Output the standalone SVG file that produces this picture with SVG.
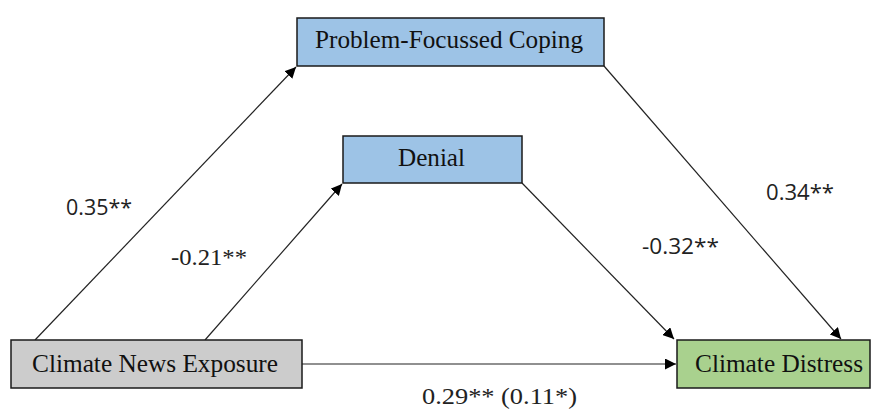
<svg xmlns="http://www.w3.org/2000/svg" width="872" height="410" viewBox="0 0 872 410">
<defs>
<marker id="ah" viewBox="0 0 10 10" refX="10" refY="5" markerWidth="11" markerHeight="11" markerUnits="userSpaceOnUse" orient="auto">
<path d="M0,0 L10,5 L0,10 z" fill="#000"/>
</marker>
<style>
.box{stroke:#1a1a1a;stroke-width:1.5}
.nt{font-family:"Liberation Serif","Times New Roman",serif;font-size:25px;fill:#111}
.lb{font-family:"Open Sans","Liberation Sans",Arial,sans-serif;font-size:21px;fill:#222}
.ls{font-family:"Liberation Serif","Times New Roman",serif;font-size:23px;fill:#222}
.cn{stroke:#222;stroke-width:1.2;fill:none;marker-end:url(#ah)}
</style>
</defs>
<rect width="872" height="410" fill="#fff"/>
<g id="connectors">
<line class="cn" x1="35" y1="340" x2="296" y2="67"/>
<line class="cn" x1="205" y1="340" x2="342" y2="184"/>
<line class="cn" x1="604" y1="66" x2="841" y2="339"/>
<line class="cn" x1="522" y1="183" x2="674" y2="339"/>
<line class="cn" x1="302" y1="364" x2="676" y2="364"/>
</g>
<g id="n-pfc">
<rect class="box" x="297" y="18" width="307" height="48" fill="#9dc3e6"/>
<text class="nt" x="315" y="48" textLength="268" lengthAdjust="spacingAndGlyphs">Problem-Focussed Coping</text>
</g>
<g id="n-denial">
<rect class="box" x="343" y="136" width="179" height="47" fill="#9dc3e6"/>
<text class="nt" x="398" y="166" textLength="67" lengthAdjust="spacingAndGlyphs">Denial</text>
</g>
<g id="n-cne">
<rect class="box" x="11" y="340" width="291" height="48" fill="#cccccc"/>
<text class="nt" x="32" y="372" textLength="246" lengthAdjust="spacingAndGlyphs">Climate News Exposure</text>
</g>
<g id="n-cd">
<rect class="box" x="677" y="340" width="193" height="48" fill="#a9d18e"/>
<text class="nt" x="695" y="372" textLength="168" lengthAdjust="spacingAndGlyphs">Climate Distress</text>
</g>
<g id="labels">
<text class="lb" x="66" y="215" textLength="66" lengthAdjust="spacingAndGlyphs">0.35**</text>
<text class="ls" x="171" y="265" textLength="76" lengthAdjust="spacingAndGlyphs">-0.21**</text>
<text class="lb" x="642" y="254" textLength="77" lengthAdjust="spacingAndGlyphs">-0.32**</text>
<text class="lb" x="766" y="200" textLength="68" lengthAdjust="spacingAndGlyphs">0.34**</text>
<text class="ls" x="422" y="404" textLength="155" lengthAdjust="spacingAndGlyphs">0.29** (0.11*)</text>
</g>
</svg>
